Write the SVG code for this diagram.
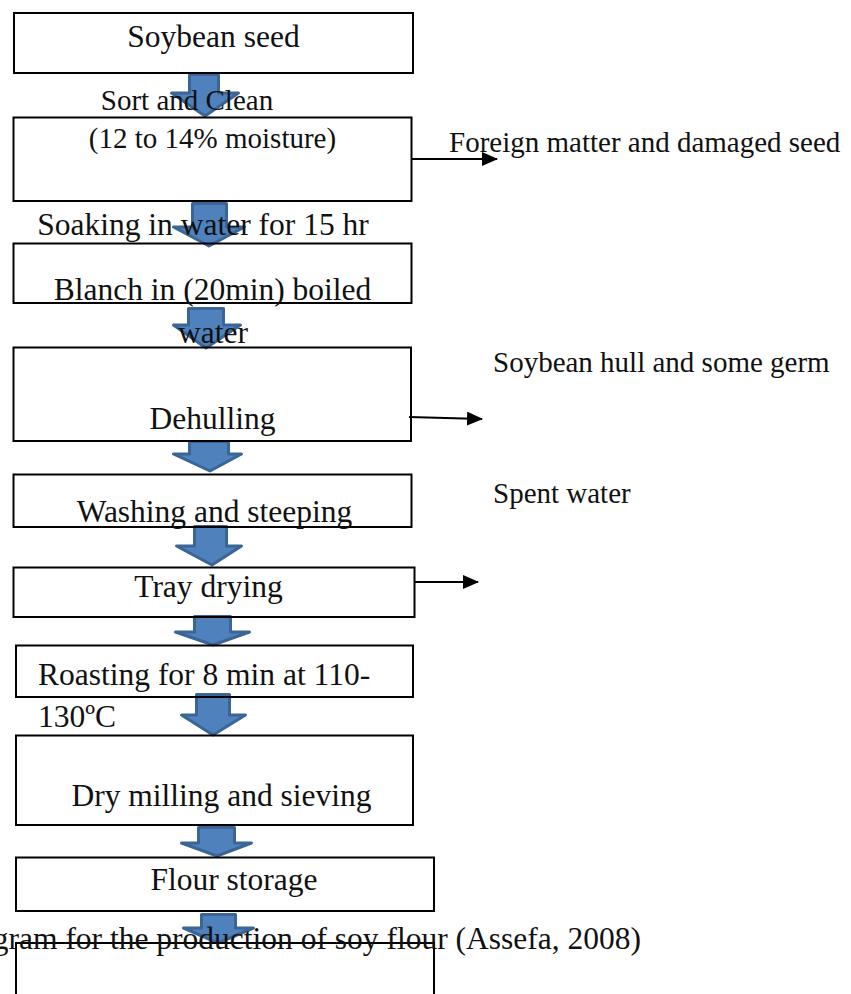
<svg xmlns="http://www.w3.org/2000/svg" width="851" height="994" viewBox="0 0 851 994">
<defs>
<style>
.box{fill:none;stroke:#000;stroke-width:2}
.t{font-family:"Liberation Serif","Times New Roman",serif;font-size:31.5px;fill:#111}
.s{font-family:"Liberation Serif","Times New Roman",serif;font-size:29px;fill:#111}
.m{text-anchor:middle}
.blk{fill:#4F81BD;stroke:#3A6595;stroke-width:3;stroke-linejoin:round}
.ln{stroke:#000;stroke-width:2;fill:none}
</style>
<marker id="ah" markerWidth="8" markerHeight="7" refX="7.5" refY="3.5" orient="auto" markerUnits="strokeWidth">
<path d="M0,0 L8,3.5 L0,7 Z" fill="#000"/>
</marker>
</defs>
<rect width="851" height="994" fill="#fff"/>

<g id="connectors">
<path class="blk" d="M189.5,74.5 H218.5 V93 H238.5 L205,116 L171.5,93 H189.5 Z"/>
<path class="blk" d="M192.5,203.5 H226.5 V227 H244.5 L209,246 L173.5,227 H192.5 Z"/>
<path class="blk" d="M188.5,308.5 H223.5 V325 H240.5 L206,348 L173.5,325 H188.5 Z"/>
<path class="blk" d="M189.5,441.5 H228.5 V454 H241.5 L210,471 L173.5,454 H189.5 Z"/>
<path class="blk" d="M194.5,526.5 H226.5 V546 H241.5 L212,565 L176.5,546 H194.5 Z"/>
<path class="blk" d="M194.5,616.5 H230.5 V632 H249.5 L213,645 L175.5,632 H194.5 Z"/>
<path class="blk" d="M196.5,694.5 H229.5 V715 H245.5 L213,735 L181.5,715 H196.5 Z"/>
<path class="blk" d="M198.5,827.5 H234.5 V843 H251.5 L217,856 L181.5,843 H198.5 Z"/>
<path class="blk" d="M201.5,914.5 H235.5 V928 H253.5 L218,943 L183.5,928 H201.5 Z"/>
<line class="ln" x1="412" y1="159" x2="497" y2="159" marker-end="url(#ah)"/>
<line class="ln" x1="409" y1="417" x2="482" y2="419" marker-end="url(#ah)"/>
<line class="ln" x1="415" y1="582" x2="478" y2="582" marker-end="url(#ah)"/>
</g>

<g id="n1"><rect class="box" x="14" y="13" width="399" height="60"/><text class="t m" x="213.5" y="47">Soybean seed</text></g>
<g id="lbl-sort"><text class="s m" x="187" y="110">Sort and Clean</text></g>
<g id="n2"><rect class="box" x="13.5" y="117.5" width="398" height="83.5"/><text class="s m" x="212.5" y="148">(12 to 14% moisture)</text></g>
<g id="lbl-soak"><text class="t m" x="203" y="235">Soaking in water for 15 hr</text></g>
<g id="n3"><rect class="box" x="13.5" y="243.5" width="398" height="59.5"/><text class="t m" x="212.5" y="300">Blanch in (20min) boiled</text></g>
<g id="lbl-water"><text class="t m" x="213" y="343">water</text></g>
<g id="n4"><rect class="box" x="13.5" y="347.5" width="397.5" height="93.5"/><text class="t m" x="212.5" y="429">Dehulling</text></g>
<g id="n5"><rect class="box" x="13.5" y="474.5" width="398" height="52.5"/><text class="t m" x="214.5" y="522">Washing and steeping</text></g>
<g id="n6"><rect class="box" x="13.5" y="567.5" width="401" height="49.5"/><text class="t m" x="208.5" y="597">Tray drying</text></g>
<g id="n7"><rect class="box" x="16" y="645.5" width="397" height="51.5"/><text class="t" x="38" y="685">Roasting for 8 min at 110-</text><text class="t" x="38" y="727">130ºC</text></g>
<g id="n8"><rect class="box" x="16" y="735.5" width="397" height="89.5"/><text class="t m" x="221.5" y="806">Dry milling and sieving</text></g>
<g id="n9"><rect class="box" x="16" y="857.5" width="418" height="53.5"/><text class="t m" x="234" y="890">Flour storage</text></g>
<g id="n10"><rect class="box" x="16" y="943" width="418" height="60"/></g>

<g id="side-labels">
<text class="s" x="449" y="152">Foreign matter and damaged seed</text>
<text class="s" x="493" y="372">Soybean hull and some germ</text>
<text class="s" x="493" y="503">Spent water</text>
</g>
<g id="caption"><text class="t" x="641" y="949" text-anchor="end">gram for the production of soy flour (Assefa, 2008)</text></g>
</svg>
